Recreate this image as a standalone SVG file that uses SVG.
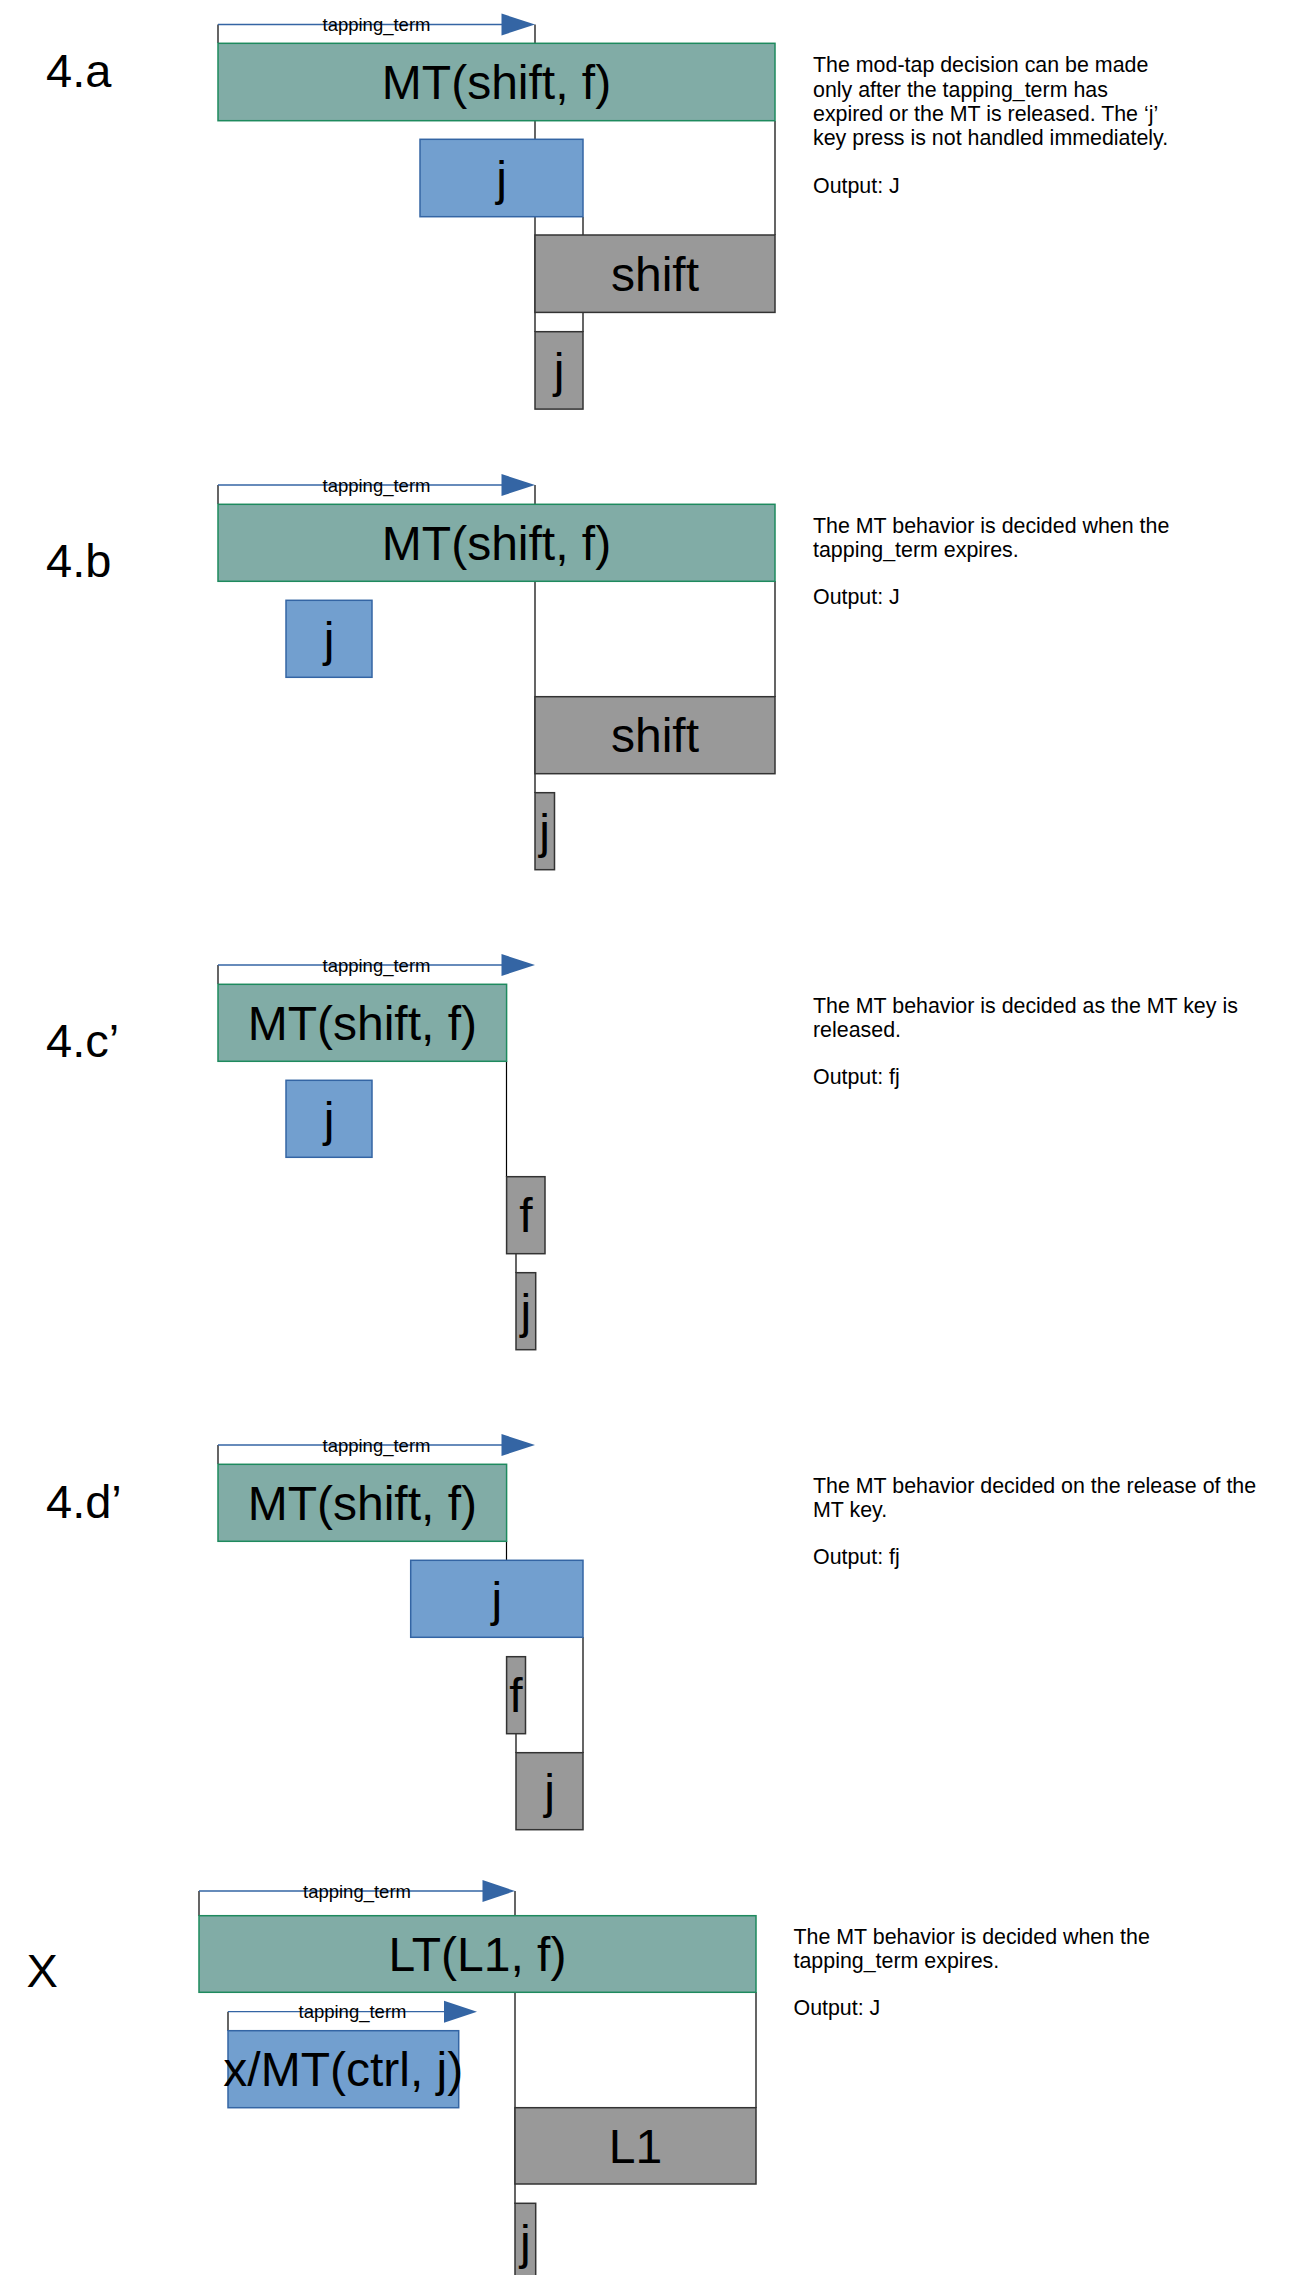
<svg xmlns="http://www.w3.org/2000/svg" width="1310" height="2275" viewBox="0 0 1310 2275">
<defs>
<style>
text{font-family:"Liberation Sans",Arial,sans-serif;fill:#000}
.mt{fill:#81aca6;stroke:#1e8a5e;stroke-width:1.5}
.bl{fill:#729fcf;stroke:#3465a4;stroke-width:1.5}
.gr{fill:#999999;stroke:#333333;stroke-width:1.5}
.k{font-size:48px;text-anchor:middle}
.sec{font-size:47px}
.desc{font-size:21.4px}
.tt{font-size:18.5px;text-anchor:middle}
.ln{stroke:#000;stroke-width:1.2;fill:none}
.ar{stroke:#3465a4;stroke-width:1.3;fill:none}
.ah{fill:#3465a4}
</style>
</defs>
<g id="connectors">
<!-- 4.a -->
<path class="ln" d="M218,24.5V43 M535,24.5V332 M775,121V235 M583,217V332"/>
<path class="ar" d="M218,24.5H503"/>
<polygon class="ah" points="501.5,13.5 535,24.5 501.5,35.5"/>
<!-- 4.b -->
<path class="ln" d="M218,485V504 M535,485V793 M775,581V697"/>
<path class="ar" d="M218,485H503"/>
<polygon class="ah" points="501.5,474 535,485 501.5,496"/>
<!-- 4.c -->
<path class="ln" d="M218,965V984 M506.5,1061V1177 M516,1253V1273"/>
<path class="ar" d="M218,965H503"/>
<polygon class="ah" points="501.5,954 535,965 501.5,976"/>
<!-- 4.d -->
<path class="ln" d="M218,1445V1464 M506.5,1541V1560 M583,1637V1753 M516,1733V1753"/>
<path class="ar" d="M218,1445H503"/>
<polygon class="ah" points="501.5,1434 535,1445 501.5,1456"/>
<!-- X -->
<path class="ln" d="M199,1891V1916 M515,1891V2204 M756,1992V2108 M228,2011.7V2031"/>
<path class="ar" d="M199,1891H484 M228,2011.7H446"/>
<polygon class="ah" points="482.5,1880 515,1891 482.5,1902"/>
<polygon class="ah" points="444,2000.7 477,2011.7 444,2022.7"/>
</g>

<g id="panel-4a">
<text class="sec" x="46" y="87">4.a</text>
<text class="tt" x="376.5" y="31">tapping_term</text>
<g id="a-mt"><rect class="mt" x="218" y="43.3" width="557" height="77.4"/><text class="k" x="496.5" y="99">MT(shift, f)</text></g>
<g id="a-j"><rect class="bl" x="420" y="139.3" width="163" height="77.4"/><text class="k" x="501.5" y="195">j</text></g>
<g id="a-shift"><rect class="gr" x="535" y="235" width="240" height="77.4"/><text class="k" x="655" y="291">shift</text></g>
<g id="a-j2"><rect class="gr" x="535" y="331.7" width="48" height="77.4"/><text class="k" x="559" y="387">j</text></g>
<text class="desc" x="813" y="72.3">The mod-tap decision can be made</text>
<text class="desc" x="813" y="96.5">only after the tapping_term has</text>
<text class="desc" x="813" y="120.7">expired or the MT is released. The ‘j’</text>
<text class="desc" x="813" y="144.9">key press is not handled immediately.</text>
<text class="desc" x="813" y="193.3">Output: J</text>
</g>

<g id="panel-4b">
<text class="sec" x="46" y="577">4.b</text>
<text class="tt" x="376.5" y="491.5">tapping_term</text>
<g id="b-mt"><rect class="mt" x="218" y="504.3" width="557" height="77"/><text class="k" x="496.5" y="560">MT(shift, f)</text></g>
<g id="b-j"><rect class="bl" x="286" y="600.3" width="86" height="77"/><text class="k" x="329" y="656">j</text></g>
<g id="b-shift"><rect class="gr" x="535" y="696.7" width="240" height="77"/><text class="k" x="655" y="752">shift</text></g>
<g id="b-j2"><rect class="gr" x="535" y="792.7" width="19.5" height="77"/><text class="k" x="544.7" y="848">j</text></g>
<text class="desc" x="813" y="533">The MT behavior is decided when the</text>
<text class="desc" x="813" y="557">tapping_term expires.</text>
<text class="desc" x="813" y="604">Output: J</text>
</g>

<g id="panel-4c">
<text class="sec" x="46" y="1057">4.c’</text>
<text class="tt" x="376.5" y="971.5">tapping_term</text>
<g id="c-mt"><rect class="mt" x="218" y="984.3" width="288.6" height="77"/><text class="k" x="362.3" y="1040">MT(shift, f)</text></g>
<g id="c-j"><rect class="bl" x="286" y="1080.3" width="86" height="77"/><text class="k" x="329" y="1136">j</text></g>
<g id="c-f"><rect class="gr" x="506.6" y="1176.7" width="38.4" height="77"/><text class="k" x="525.8" y="1232">f</text></g>
<g id="c-j2"><rect class="gr" x="516" y="1272.7" width="19.7" height="77"/><text class="k" x="525.8" y="1328">j</text></g>
<text class="desc" x="813" y="1012.5">The MT behavior is decided as the MT key is</text>
<text class="desc" x="813" y="1036.6">released.</text>
<text class="desc" x="813" y="1083.5">Output: fj</text>
</g>

<g id="panel-4d">
<text class="sec" x="46" y="1517.5">4.d’</text>
<text class="tt" x="376.5" y="1451.5">tapping_term</text>
<g id="d-mt"><rect class="mt" x="218" y="1464.3" width="288.6" height="77"/><text class="k" x="362.3" y="1520">MT(shift, f)</text></g>
<g id="d-j"><rect class="bl" x="410.7" y="1560.3" width="172.3" height="77"/><text class="k" x="496.8" y="1616">j</text></g>
<g id="d-f"><rect class="gr" x="506.6" y="1656.7" width="18.9" height="77"/><text class="k" x="516" y="1712">f</text></g>
<g id="d-j2"><rect class="gr" x="516" y="1752.7" width="67" height="77"/><text class="k" x="549.5" y="1808">j</text></g>
<text class="desc" x="813" y="1493">The MT behavior decided on the release of the</text>
<text class="desc" x="813" y="1516.5">MT key.</text>
<text class="desc" x="813" y="1564">Output: fj</text>
</g>

<g id="panel-x">
<text class="sec" x="26.5" y="1987">X</text>
<text class="tt" x="357" y="1897.5">tapping_term</text>
<g id="x-lt"><rect class="mt" x="199" y="1915.7" width="557" height="76.6"/><text class="k" x="477.5" y="1971">LT(L1, f)</text></g>
<text class="tt" x="352.5" y="2018.2">tapping_term</text>
<g id="x-mt"><rect class="bl" x="228" y="2030.7" width="230.7" height="77"/><text class="k" x="343.3" y="2086">x/MT(ctrl, j)</text></g>
<g id="x-l1"><rect class="gr" x="515" y="2107.7" width="241" height="76.3"/><text class="k" x="635.5" y="2163">L1</text></g>
<g id="x-j"><rect class="gr" x="515" y="2203.3" width="20.7" height="90"/><text class="k" x="525.3" y="2259">j</text></g>
<text class="desc" x="793.5" y="1944">The MT behavior is decided when the</text>
<text class="desc" x="793.5" y="1967.5">tapping_term expires.</text>
<text class="desc" x="793.5" y="2015">Output: J</text>
</g>
</svg>
